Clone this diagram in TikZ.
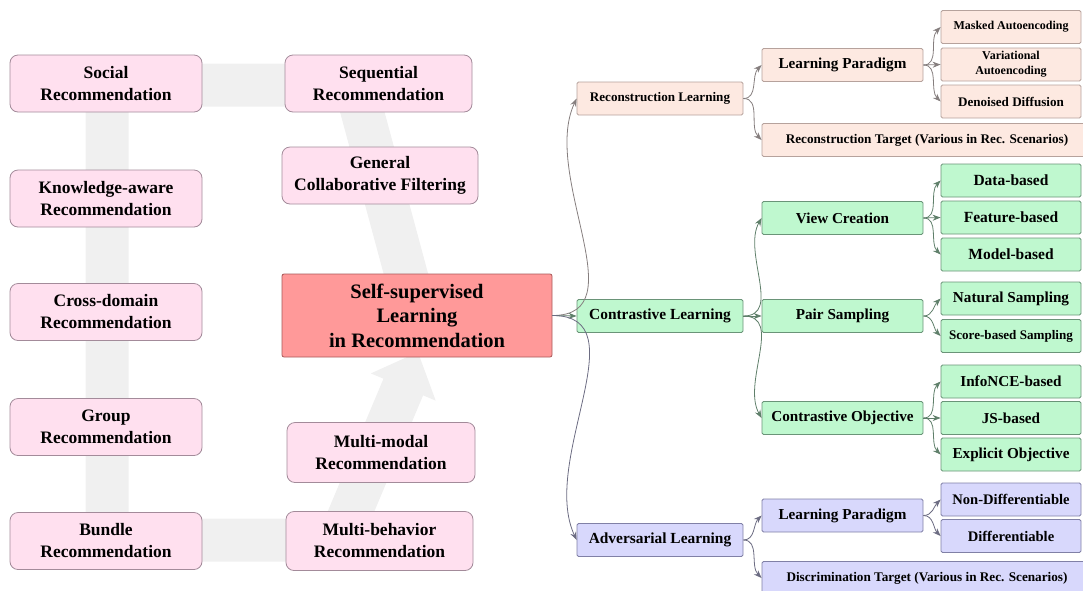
\documentclass[tikz,border=0pt]{standalone}
\usepackage{fontspec}
\setmainfont{Liberation Serif}
\usetikzlibrary{arrows.meta}

\definecolor{pinkfill}{HTML}{FFE0EF}
\definecolor{pinkline}{HTML}{A38B9A}
\definecolor{selffill}{HTML}{FF9999}
\definecolor{selfline}{HTML}{A85858}
\definecolor{recfill}{HTML}{FDE9E1}
\definecolor{recline}{HTML}{B6A29C}
\definecolor{recarr}{HTML}{857E7E}
\definecolor{confill}{HTML}{BFF8CF}
\definecolor{conline}{HTML}{6A9478}
\definecolor{conarr}{HTML}{5F7F6A}
\definecolor{advfill}{HTML}{D8D8FC}
\definecolor{advline}{HTML}{8080A6}
\definecolor{advarr}{HTML}{6C6C82}
\definecolor{bandgray}{HTML}{F0F0F0}

\begin{document}
\begin{tikzpicture}[x=1pt,y=-1pt,
    every node/.style={inner sep=0pt,align=center,font=\bfseries},
    topic/.style={draw=pinkline,fill=pinkfill,line width=0.8pt,rounded corners=8pt,
        minimum width=192pt,minimum height=57pt,font=\fontsize{17.5}{22}\selectfont\bfseries},
    core/.style={draw=selfline,fill=selffill,line width=0.8pt,rounded corners=2pt,
        minimum width=270pt,minimum height=83pt,font=\fontsize{20.5}{24.5}\selectfont\bfseries},
    box/.style={line width=0.8pt,rounded corners=1.5pt,minimum height=33pt},
    lvlA/.style={box,minimum width=166pt,font=\fontsize{15.4}{17}\selectfont\bfseries},
    lvlB/.style={box,minimum width=161pt,font=\fontsize{15.2}{17}\selectfont\bfseries},
    lvlC/.style={box,minimum width=140pt,font=\fontsize{15.2}{17}\selectfont\bfseries},
    wide/.style={box,minimum width=330pt,font=\fontsize{13.2}{15}\selectfont\bfseries},
    rec/.style={draw=recline,fill=recfill},
    con/.style={draw=conline,fill=confill},
    adv/.style={draw=advline,fill=advfill},
    link/.style={line width=0.8pt,-{Stealth[length=8pt,width=6pt]}},
    up/.style={out=0,in=225},
    down/.style={out=0,in=135}]
\useasboundingbox (0,0) rectangle (1083,590);

% grey background band
\draw[bandgray,line width=43pt,line join=miter,-{Triangle[length=38pt,width=68pt]}]
    (417,315) -- (355,85) -- (107,85) -- (107,540) -- (339,540) -- (418,352);

% recommendation scenarios
\node[topic] (social) at (106,83.5) {Social\\Recommendation};
\node[topic] (know) at (106,198.5) {Knowledge-aware\\Recommendation};
\node[topic] (cross) at (106,312) {Cross-domain\\Recommendation};
\node[topic] (group) at (106,427) {Group\\Recommendation};
\node[topic] (bundle) at (106,541) {Bundle\\Recommendation};
\node[topic,minimum width=187pt] (seq) at (378.5,83.5) {Sequential\\Recommendation};
\node[topic,minimum width=196pt] (gcf) at (380,175.5) {General\\Collaborative Filtering};
\node[topic,minimum width=188pt,minimum height=60pt] (mmodal) at (381,452.5) {Multi-modal\\Recommendation};
\node[topic,minimum width=187pt,minimum height=59pt] (mbehav) at (379.5,541) {Multi-behavior\\Recommendation};

\node[core] (ssl) at (417,315.5) {Self-supervised\\Learning\\in Recommendation};

% first level
\node[lvlA,rec,font=\fontsize{13.1}{15}\selectfont\bfseries] (recon) at (660,98.5) {Reconstruction Learning};
\node[lvlA,con] (contr) at (660,316) {Contrastive Learning};
\node[lvlA,adv] (adver) at (660,540) {Adversarial Learning};

% second level
\node[lvlB,rec] (recpar) at (842.5,65) {Learning Paradigm};
\node[wide,rec] (rectgt) at (927,140) {Reconstruction Target (Various in Rec. Scenarios)};
\node[lvlB,con] (view) at (842.5,218) {View Creation};
\node[lvlB,con] (pair) at (842.5,316) {Pair Sampling};
\node[lvlB,con] (cobj) at (842.5,418) {Contrastive Objective};
\node[lvlB,adv] (advpar) at (842.5,515.5) {Learning Paradigm};
\node[wide,adv] (advtgt) at (927,578) {Discrimination Target (Various in Rec. Scenarios)};

% third level
\node[lvlC,rec,font=\fontsize{12}{13}\selectfont\bfseries] (masked) at (1011,27) {Masked Autoencoding};
\node[lvlC,rec,font=\fontsize{12}{15}\selectfont\bfseries] (vae) at (1011,64.5) {Variational\\Autoencoding};
\node[lvlC,rec,font=\fontsize{13.1}{15}\selectfont\bfseries] (diff) at (1011,101.5) {Denoised Diffusion};
\node[lvlC,con,font=\fontsize{15.5}{17}\selectfont\bfseries] (data) at (1011,180.5) {Data-based};
\node[lvlC,con,font=\fontsize{15.5}{17}\selectfont\bfseries] (feat) at (1011,217.5) {Feature-based};
\node[lvlC,con,font=\fontsize{15.5}{17}\selectfont\bfseries] (model) at (1011,254.5) {Model-based};
\node[lvlC,con] (natural) at (1011,298.5) {Natural Sampling};
\node[lvlC,con,font=\fontsize{13.1}{15}\selectfont\bfseries] (score) at (1011,336) {Score-based Sampling};
\node[lvlC,con] (infonce) at (1011,381.5) {InfoNCE-based};
\node[lvlC,con] (js) at (1011,418) {JS-based};
\node[lvlC,con] (explicit) at (1011,454.5) {Explicit Objective};
\node[lvlC,adv,font=\fontsize{14.6}{17}\selectfont\bfseries] (nondiff) at (1011,499.5) {Non-Differentiable};
\node[lvlC,adv,font=\fontsize{14.6}{17}\selectfont\bfseries] (differ) at (1011,536) {Differentiable};

% connectors
\draw[link,recarr] (ssl.east) to[out=0,in=245] (recon.west);
\draw[link,conarr] (ssl.east) -- (contr.west);
\draw[link,advarr] (ssl.east) to[out=0,in=115] (adver.west);

\draw[link,recarr] (recon.east) to[up] (recpar.west);
\draw[link,recarr] (recon.east) to[down] (rectgt.west);
\draw[link,recarr] (recpar.east) to[up] (masked.west);
\draw[link,recarr] (recpar.east) -- (vae.west);
\draw[link,recarr] (recpar.east) to[down] (diff.west);

\draw[link,conarr] (contr.east) to[out=0,in=240] (view.west);
\draw[link,conarr] (contr.east) -- (pair.west);
\draw[link,conarr] (contr.east) to[out=0,in=120] (cobj.west);
\draw[link,conarr] (view.east) to[up] (data.west);
\draw[link,conarr] (view.east) -- (feat.west);
\draw[link,conarr] (view.east) to[down] (model.west);
\draw[link,conarr] (pair.east) to[up] (natural.west);
\draw[link,conarr] (pair.east) to[down] (score.west);
\draw[link,conarr] (cobj.east) to[up] (infonce.west);
\draw[link,conarr] (cobj.east) -- (js.west);
\draw[link,conarr] (cobj.east) to[down] (explicit.west);

\draw[link,advarr] (adver.east) to[up] (advpar.west);
\draw[link,advarr] (adver.east) to[down] (advtgt.west);
\draw[link,advarr] (advpar.east) to[up] (nondiff.west);
\draw[link,advarr] (advpar.east) to[down] (differ.west);
\end{tikzpicture}
\end{document}
